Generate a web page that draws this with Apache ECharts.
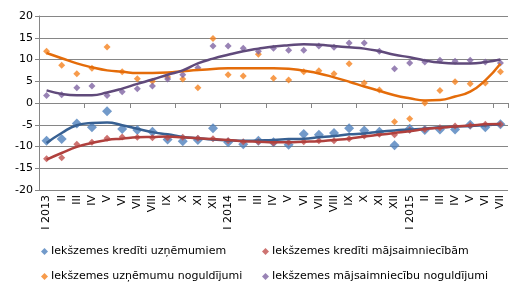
<!DOCTYPE html>
<html>
<head>
<meta charset="utf-8">
<script src="https://cdn.jsdelivr.net/npm/echarts@6/dist/echarts.min.js"></script>
<style>
  html, body { margin: 0; padding: 0; background: #fff; }
  #chart { width: 525px; height: 295px; }
</style>
</head>
<body>
<div id="chart"></div>
<script>
// months, Jan 2013 .. Jul 2015
const months = [
  'I 2013', 'II', 'III', 'IV', 'V', 'VI', 'VII', 'VIII', 'IX', 'X', 'XI', 'XII',
  'I 2014', 'II', 'III', 'IV', 'V', 'VI', 'VII', 'VIII', 'IX', 'X', 'XI', 'XII',
  'I 2015', 'II', 'III', 'IV', 'V', 'VI', 'VII'
];

const seriesNames = [
  'Iekšzemes kredīti uzņēmumiem',
  'Iekšzemes kredīti mājsaimniecībām',
  'Iekšzemes uzņēmumu noguldījumi',
  'Iekšzemes mājsaimniecību noguldījumi'
];

// annual % change
const loansCorp = [
  -8.7, -8.3, -4.7, -5.6, -1.9, -6.0, -6.2, -6.6, -8.4, -8.8, -8.5, -5.8,
  -9.0, -9.5, -8.7, -9.0, -9.6, -7.1, -7.3, -6.9, -5.8, -6.3, -6.6, -9.7,
  -5.9, -6.2, -6.1, -6.1, -5.0, -5.6, -4.9
];
const loansHh = [
  -12.8, -12.6, -9.5, -9.0, -8.1, -7.8, -7.9, -8.0, -8.0, -7.9, -8.1, -8.2,
  -8.7, -8.9, -8.9, -9.2, -9.0, -8.9, -8.7, -8.7, -8.2, -7.6, -7.2, -7.3,
  -6.2, -6.1, -5.7, -5.3, -5.2, -4.9, -4.9
];
const depCorp = [
  11.9, 8.7, 6.7, 8.0, 12.9, 7.2, 5.6, 5.0, 6.0, 5.5, 3.5, 14.8,
  6.5, 6.2, 11.2, 5.7, 5.3, 7.2, 7.4, 6.7, 9.0, 4.6, 3.0, -4.3,
  -3.6, 0.0, 2.9, 4.9, 4.4, 4.6, 7.2
];
const depHh = [
  1.7, 1.9, 3.5, 3.9, 1.7, 2.6, 3.3, 3.9, 5.5, 6.5, 8.1, 13.1,
  13.1, 12.6, 11.9, 12.6, 12.1, 12.1, 13.1, 12.8, 13.8, 13.8, 11.9, 7.9,
  9.2, 9.4, 9.8, 9.6, 9.8, 9.4, 9.2
];

// trend lines
const trendLoansCorp = [
  -9.2, -6.9, -5.1, -4.6, -4.5, -5.1, -5.9, -6.7, -7.2, -7.8, -8.1, -8.4,
  -8.6, -8.7, -8.6, -8.5, -8.3, -8.2, -7.9, -7.6, -7.2, -7.0, -6.6, -6.3,
  -6.1, -5.9, -5.6, -5.4, -5.3, -5.1, -4.9
];
const trendLoansHh = [
  -13.0, -11.5, -10.1, -9.2, -8.5, -8.2, -7.9, -7.8, -7.7, -7.9, -8.1, -8.3,
  -8.5, -8.8, -8.9, -9.0, -9.0, -8.9, -8.8, -8.5, -8.2, -7.7, -7.3, -6.9,
  -6.5, -6.0, -5.7, -5.4, -5.2, -4.9, -4.8
];
const trendDepCorp = [
  11.5, 10.3, 9.1, 8.2, 7.5, 7.2, 6.9, 6.9, 7.0, 7.3, 7.6, 7.8,
  8.0, 8.0, 8.0, 8.0, 7.9, 7.4, 6.8, 5.9, 4.9, 3.8, 2.8, 1.8,
  1.1, 0.6, 0.7, 1.5, 2.6, 5.2, 9.0
];
const trendDepHh = [
  2.9, 2.1, 1.8, 1.8, 2.4, 3.3, 4.4, 5.4, 6.5, 7.5, 9.1, 10.2,
  11.1, 11.9, 12.5, 13.0, 13.3, 13.5, 13.4, 13.1, 12.8, 12.5, 11.9, 11.1,
  10.5, 9.8, 9.3, 9.1, 9.1, 9.4, 10.0
];

const colors = ['#4f81bd', '#c0504d', '#f5821f', '#8064a2'];
const trendColors = ['#376092', '#b0403d', '#e46c0a', '#604a7b'];
const font = 'DejaVu Sans';

const chart = echarts.init(document.getElementById('chart'));

const legendBox = (name, left, top) => ({
  data: [name],
  left: left,
  top: top,
  orient: 'horizontal',
  itemWidth: 7,
  itemHeight: 7,
  itemGap: 0,
  padding: 0,
  textStyle: { fontFamily: font, fontSize: 11, color: '#000', padding: [0, 0, 0, -2] },
});

const scatter = (name, data, color, size) => ({
  name: name,
  type: 'scatter',
  symbol: 'diamond',
  symbolSize: size,
  itemStyle: { color: color },
  data: data,
  z: 2,
});

const trend = (data, color) => ({
  type: 'line',
  smooth: 0.5,
  symbol: 'none',
  lineStyle: { color: color, width: 2.5 },
  data: data,
  silent: true,
  z: 3,
});

const option = {
  animation: false,
  legend: [
    legendBox(seriesNames[0], 41, 246),
    legendBox(seriesNames[1], 262, 246),
    legendBox(seriesNames[2], 41, 271),
    legendBox(seriesNames[3], 262, 271),
  ],
  grid: { left: 39, right: 17, top: 16, bottom: 105 },
  xAxis: [
    {
      // line with ticks sitting on zero
      type: 'category',
      data: months,
      axisLine: { onZero: true, lineStyle: { color: '#868686', width: 1 } },
      axisTick: { show: true, length: 5, lineStyle: { color: '#868686' } },
      axisLabel: { show: false },
    },
    {
      // labels at the bottom
      type: 'category',
      data: months,
      position: 'bottom',
      axisLine: { show: false, onZero: false },
      axisTick: { show: false },
      axisLabel: {
        rotate: 90,
        interval: 0,
        margin: 5,
        fontFamily: font,
        fontSize: 11,
        color: '#000',
      },
    },
  ],
  yAxis: {
    type: 'value',
    min: -20,
    max: 20,
    interval: 5,
    axisLine: { show: true, lineStyle: { color: '#868686' } },
    axisTick: { show: true, length: 4, lineStyle: { color: '#868686' } },
    axisLabel: { fontFamily: font, fontSize: 11, color: '#000', margin: 6 },
    splitLine: { lineStyle: { color: '#868686', width: 1 } },
  },
  series: [
    scatter(seriesNames[0], loansCorp, colors[0], 10),
    scatter(seriesNames[1], loansHh, colors[1], 7),
    scatter(seriesNames[2], depCorp, colors[2], 7),
    scatter(seriesNames[3], depHh, colors[3], 7),
    trend(trendLoansCorp, trendColors[0]),
    trend(trendLoansHh, trendColors[1]),
    trend(trendDepCorp, trendColors[2]),
    trend(trendDepHh, trendColors[3]),
  ],
};

chart.setOption(option);
</script>
</body>
</html>
